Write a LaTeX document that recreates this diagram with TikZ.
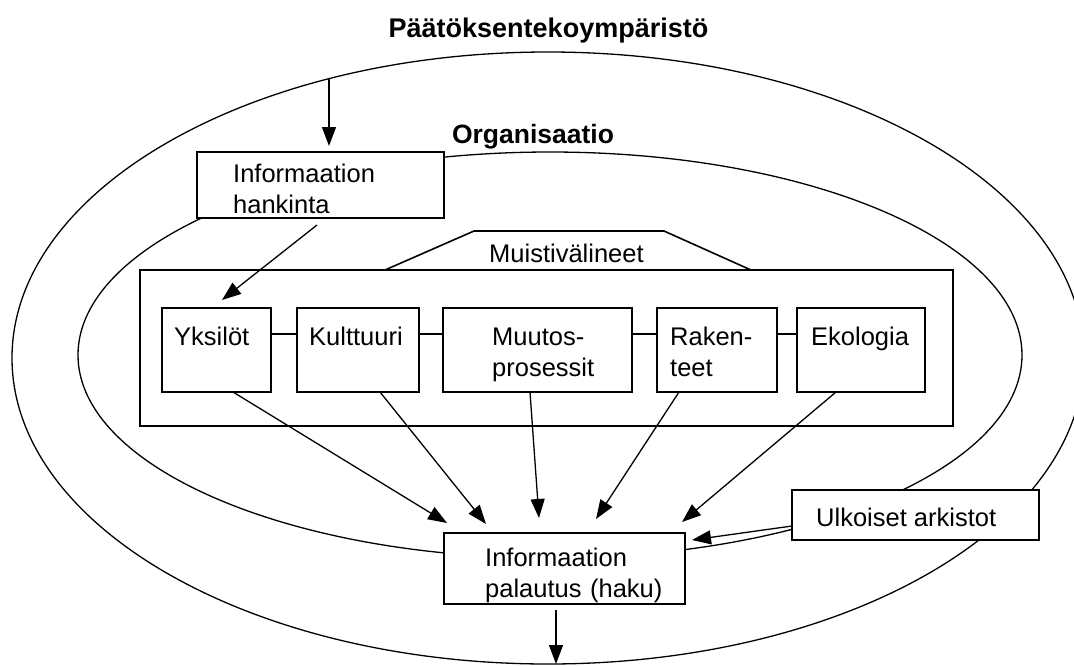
\documentclass[tikz,border=0pt]{standalone}
\usepackage{fontspec}
\setmainfont{Liberation Sans}
\usetikzlibrary{arrows.meta,calc}
\begin{document}
\begin{tikzpicture}[x=1pt,y=-1pt,
  box/.style={draw, line width=1.6pt, fill=white, inner sep=0pt, outer sep=0pt},
  ring/.style={line width=1.3pt},
  link/.style={line width=1.5pt},
  arr/.style={line width=1.3pt, -{Triangle[length=19pt,width=14pt]}},
  lbl/.style={anchor=base west, inner sep=0pt, font=\fontsize{25.5}{31}\selectfont},
  lbltwo/.style={lbl, text width=260pt, align=left},
  head/.style={anchor=base, inner sep=0pt, font=\bfseries\fontsize{27}{32}\selectfont},
]
\useasboundingbox (0,0) rectangle (1074,665);
\fill[white] (0,0) rectangle (1074,665);

% environment and organisation rings
\draw[ring] (548,358) ellipse [x radius=536pt, y radius=306pt];
\draw[ring] (550,355) ellipse [x radius=472pt, y radius=203pt];
\coordinate (envtop) at (329,79);
\coordinate (envbot) at (556,664);

% headings
\node[head] (envlbl) at (548.5,37) {Päätöksentekoympäristö};
\node[head, font=\bfseries\fontsize{26.5}{32}\selectfont] (orglbl) at (533,143) {Organisaatio};

% memory block with its tab
\node[box, minimum width=813pt, minimum height=156pt] (muisti) at (546.5,348) {};
\draw[line width=1.6pt] ([xshift=245pt]muisti.north west) -- ++(89,-39) -- ++(190,0)
  -- ([xshift=611pt]muisti.north west);
\node[lbl] (muistilbl) at (489,262) {Muistivälineet};

% memory components
\node[box, minimum width=109pt, minimum height=84pt] (yks) at (216.5,350) {};
\node[box, minimum width=122pt, minimum height=84pt] (kul) at (358,350) {};
\node[box, minimum width=189pt, minimum height=84pt] (muu) at (537.5,350) {};
\node[box, minimum width=120pt, minimum height=84pt] (rak) at (717,350) {};
\node[box, minimum width=128pt, minimum height=84pt] (eko) at (861,350) {};
\node[lbl] (ykslbl) at (174,345) {Yksilöt};
\node[lbl] (kullbl) at (309,345) {Kulttuuri};
\node[lbltwo] (muulbl) at (492,345) {Muutos-\\prosessit};
\node[lbltwo] (raklbl) at (670,345) {Raken-\\teet};
\node[lbl] (ekolbl) at (811,345) {Ekologia};

\draw[link] ([yshift=16pt]yks.east) -- ([yshift=16pt]kul.west);
\draw[link] ([yshift=16pt]kul.east) -- ([yshift=16pt]muu.west);
\draw[link] ([yshift=16pt]muu.east) -- ([yshift=16pt]rak.west);
\draw[link] ([yshift=16pt]rak.east) -- ([yshift=16pt]eko.west);

% acquisition, retrieval and external archives
\node[box, minimum width=247pt, minimum height=66pt] (hank) at (320.5,185) {};
\node[lbltwo] (hanklbl) at (233,182) {Informaation\\hankinta};
\node[box, minimum width=241pt, minimum height=71pt] (pal) at (564.5,568.5) {};
\node[lbltwo] (pallbl) at (485,566) {Informaation\\palautus (haku)};
\node[box, minimum width=247pt, minimum height=50pt] (ulk) at (915.5,515) {};
\node[lbl] (ulklbl) at (816,526) {Ulkoiset arkistot};

% flows
\draw[arr, shorten >=6pt] (envtop) -- (envtop |- hank.north);
\draw[arr] ([xshift=120pt,yshift=-7pt]hank.south west) -- ([xshift=60pt,yshift=8pt]yks.north west);
\draw[arr] ([xshift=71pt]yks.south west) -- ([xshift=3pt,yshift=10pt]pal.north west);
\draw[arr] ([xshift=83pt]kul.south west) -- ([xshift=42pt,yshift=9pt]pal.north west);
\draw[arr] ([xshift=87pt]muu.south west) -- ([xshift=95pt,yshift=15pt]pal.north west);
\draw[arr] ([xshift=22pt]rak.south west) -- ([xshift=152pt,yshift=14pt]pal.north west);
\draw[arr] ([xshift=39pt]eko.south west) -- ([xshift=238pt,yshift=11pt]pal.north west);
\draw[arr] ([yshift=14pt]ulk.south west) -- ([xshift=7pt,yshift=-7pt]pal.north east);
\draw[arr] ([xshift=112pt,yshift=-6pt]pal.south west) -- (envbot);
\end{tikzpicture}
\end{document}
